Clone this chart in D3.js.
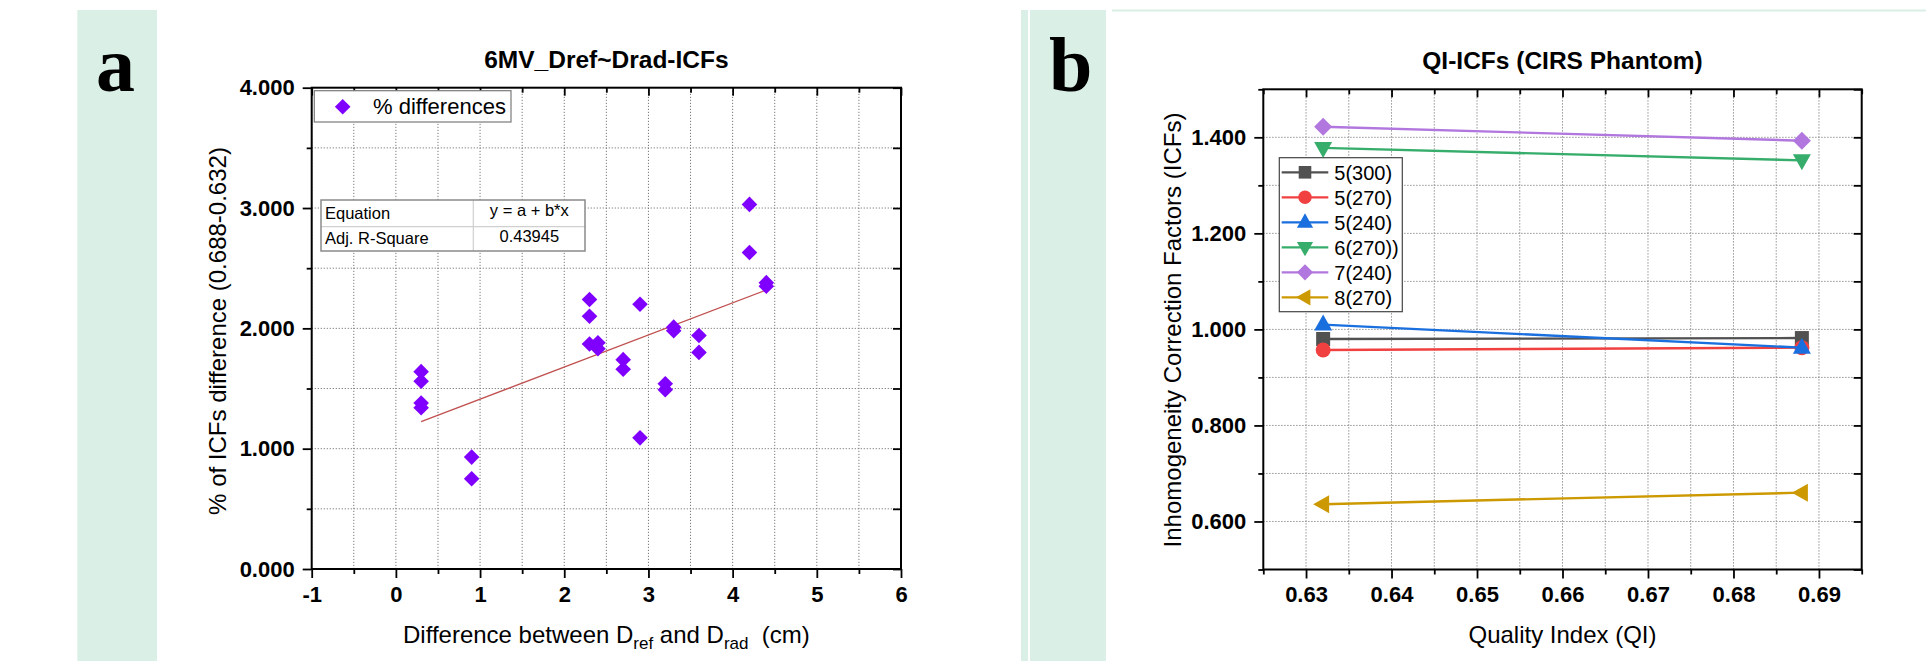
<!DOCTYPE html>
<html><head><meta charset="utf-8">
<script src="https://cdn.jsdelivr.net/npm/d3@7"></script>
<style>body{margin:0;background:#fff;} svg{display:block;} text{white-space:pre;}</style>
</head><body><svg id="c" width="1926" height="661"></svg>
<script>
// ---------- DATA (panel a) ----------
const aXTicks = [-1, 0, 1, 2, 3, 4, 5, 6];
const aYTicks = [0, 1, 2, 3, 4];
const diffX = [0.3,0.3,0.3,0.3, 0.9,0.9, 2.3,2.3,2.3, 2.4,2.4, 2.7,2.7, 2.9,2.9, 3.2,3.2, 3.3,3.3, 3.6,3.6, 4.2,4.2, 4.4,4.4];
const diffY = [1.64,1.56,1.38,1.34, 0.93,0.75, 2.24,2.10,1.87, 1.88,1.83, 1.74,1.66, 2.20,1.09, 1.54,1.49, 2.01,1.98, 1.94,1.80, 3.03,2.63, 2.38,2.35];
const fitAB = [1.144, 0.267];            // y = a + b*x
const tableLabels = ["Equation", "Adj. R-Square"];
const tableValues = ["y = a + b*x", "0.43945"];
const legendA = "% differences";

// ---------- DATA (panel b) ----------
const qi = [0.632, 0.688];
const seriesNames = ["5(300)", "5(270)", "5(240)", "6(270))", "7(240)", "8(270)"];
const icf5_300 = [0.980, 0.982];
const icf5_270 = [0.957, 0.962];
const icf5_240 = [1.010, 0.962];
const icf6_270 = [1.378, 1.352];
const icf7_240 = [1.422, 1.393];
const icf8_270 = [0.636, 0.660];
const bXTicks = [0.63, 0.64, 0.65, 0.66, 0.67, 0.68, 0.69];
const bYTicks = [0.6, 0.8, 1.0, 1.2, 1.4];

// ---------- STYLE ----------
const FONT = "'Liberation Sans', Arial, sans-serif";
const MINT = "#daf0e6";
const seriesColors = ["#515151", "#F14040", "#1A6FDF", "#37AD6B", "#B177DE", "#CC9900"];
const seriesShapes = ["square", "circle", "up", "down", "diamond", "left"];
const shapes = {
  square: "M-7,-7H7V7H-7Z",
  circle: d3.symbol(d3.symbolCircle, Math.PI * 56)(),
  up: "M0,-10L9,6H-9Z",
  down: "M0,10L9,-6H-9Z",
  diamond: "M0,-9L9,0L0,9L-9,0Z",
  left: "M-10,0L6,-9V9Z"
};
const aDiamond = "M0,-7.8L7.8,0L0,7.8L-7.8,0Z";

const svg = d3.select("#c");

// background decorations
svg.append("rect").attr("x", 77.3).attr("y", 10).attr("width", 79.7).attr("height", 651).attr("fill", MINT);
svg.append("rect").attr("x", 1021).attr("y", 10).attr("width", 85).attr("height", 651).attr("fill", MINT);
svg.append("rect").attr("x", 1028).attr("y", 10).attr("width", 2).attr("height", 651).attr("fill", "#fff");
svg.append("rect").attr("x", 1112).attr("y", 9.5).attr("width", 814).attr("height", 2).attr("fill", MINT);

svg.append("text").attr("x", 96).attr("y", 91).attr("font-family", "'Liberation Serif','Times New Roman',serif")
  .attr("font-weight", "bold").attr("font-size", 78).text("a");
svg.append("text").attr("x", 1049).attr("y", 91).attr("font-family", "'Liberation Serif','Times New Roman',serif")
  .attr("font-weight", "bold").attr("font-size", 78).text("b");

function styleAxis(sel, labelSize) {
  sel.select(".domain").remove();
  sel.attr("font-family", FONT).attr("font-size", labelSize).attr("font-weight", "bold");
  sel.selectAll(".tick line").attr("stroke", "#000").attr("stroke-width", 1.8);
  sel.selectAll(".tick text").attr("fill", "#000");
}

function drawGrid(g, x, y, xs, ys) {
  const [x0, x1] = x.range(), [y0, y1] = y.range();
  g.selectAll(null).data(xs).join("line")
    .attr("x1", d => x(d)).attr("x2", d => x(d)).attr("y1", y0).attr("y2", y1)
    .attr("stroke", "#7a7a7a").attr("stroke-width", 1).attr("stroke-dasharray", "1.2,1.8");
  g.selectAll(null).data(ys).join("line")
    .attr("y1", d => y(d)).attr("y2", d => y(d)).attr("x1", x0).attr("x2", x1)
    .attr("stroke", "#7a7a7a").attr("stroke-width", 1).attr("stroke-dasharray", "1.2,1.8");
}

function drawAxes(g, x, y, xMaj, xMin, yMaj, yMin, xFmt, yFmt) {
  const [x0, x1] = x.range(), [y0, y1] = y.range();
  g.append("g").attr("transform", `translate(0,${y0})`)
    .call(d3.axisBottom(x).tickValues(xMaj).tickSize(9).tickPadding(8).tickFormat(xFmt)).call(styleAxis, 22);
  g.append("g").attr("transform", `translate(0,${y0})`)
    .call(d3.axisBottom(x).tickValues(xMin).tickSize(5).tickFormat("")).call(styleAxis, 22);
  g.append("g").attr("transform", `translate(0,${y1})`)
    .call(d3.axisTop(x).tickValues(xMaj).tickSize(-8).tickFormat("")).call(styleAxis, 22);
  g.append("g").attr("transform", `translate(0,${y1})`)
    .call(d3.axisTop(x).tickValues(xMin).tickSize(-5).tickFormat("")).call(styleAxis, 22);
  g.append("g").attr("transform", `translate(${x0},0)`)
    .call(d3.axisLeft(y).tickValues(yMaj).tickSize(9).tickPadding(8).tickFormat(yFmt)).call(styleAxis, 22);
  g.append("g").attr("transform", `translate(${x0},0)`)
    .call(d3.axisLeft(y).tickValues(yMin).tickSize(5).tickFormat("")).call(styleAxis, 22);
  g.append("g").attr("transform", `translate(${x1},0)`)
    .call(d3.axisRight(y).tickValues(yMaj.concat(yMin)).tickSize(-8).tickFormat("")).call(styleAxis, 22);
  g.append("rect").attr("x", x0).attr("y", y1).attr("width", x1 - x0).attr("height", y0 - y1)
    .attr("fill", "none").attr("stroke", "#000").attr("stroke-width", 2);
}

// ================= PANEL A =================
const xA = d3.scaleLinear().domain([-1, 6]).range([311.7, 901]);
const yA = d3.scaleLinear().domain([0, 4]).range([569, 87.7]);
const gA = svg.append("g");
drawGrid(gA, xA, yA, d3.range(-1, 13).map(i => -0.5 + 0.5 * i).filter(v => v < 6), d3.range(1, 8).map(i => 0.5 * i));
drawAxes(gA, xA, yA, aXTicks, aXTicks.slice(0, -1).map(v => v + 0.5),
  aYTicks, aYTicks.slice(0, -1).map(v => v + 0.5), d => String(d), d3.format(".3f"));

// fit line
const fx = d3.extent(diffX);
gA.append("line").attr("x1", xA(fx[0])).attr("y1", yA(fitAB[0] + fitAB[1] * fx[0]))
  .attr("x2", xA(fx[1])).attr("y2", yA(fitAB[0] + fitAB[1] * fx[1]))
  .attr("stroke", "#c05050").attr("stroke-width", 1.3);

gA.selectAll(null).data(diffX.map((d, i) => [d, diffY[i]])).join("path")
  .attr("d", aDiamond).attr("transform", d => `translate(${xA(d[0])},${yA(d[1])})`).attr("fill", "#8000ff");

// legend a
gA.append("rect").attr("x", 314.3).attr("y", 90.7).attr("width", 196.7).attr("height", 31.3)
  .attr("fill", "#fff").attr("stroke", "#7a7a7a").attr("stroke-width", 1.2);
gA.append("path").attr("d", aDiamond).attr("transform", "translate(342.7,106.7)").attr("fill", "#8000ff");
gA.append("text").attr("x", 373).attr("y", 114).attr("font-family", FONT).attr("font-size", 22).text(legendA);

// table
const tb = gA.append("g");
tb.append("rect").attr("x", 321).attr("y", 200).attr("width", 264).attr("height", 51).attr("fill", "#fff");
tb.append("line").attr("x1", 321).attr("x2", 585).attr("y1", 226.7).attr("y2", 226.7).attr("stroke", "#d0d0d0").attr("stroke-width", 1.2);
tb.append("line").attr("x1", 473.3).attr("x2", 473.3).attr("y1", 200).attr("y2", 251).attr("stroke", "#d0d0d0").attr("stroke-width", 1.2);
tb.append("rect").attr("x", 321).attr("y", 200).attr("width", 264).attr("height", 51).attr("fill", "none")
  .attr("stroke", "#8a8a8a").attr("stroke-width", 1.5);
tableLabels.forEach((t, i) => {
  tb.append("text").attr("x", 325).attr("y", 218.5 + 25 * i).attr("font-family", FONT).attr("font-size", 16.5).text(t);
  tb.append("text").attr("x", 529.3).attr("y", 216 + 26 * i).attr("text-anchor", "middle")
    .attr("font-family", FONT).attr("font-size", 16.5).text(tableValues[i]);
});

// titles a
svg.append("text").attr("x", 606.4).attr("y", 68).attr("text-anchor", "middle").attr("font-family", FONT)
  .attr("font-weight", "bold").attr("font-size", 24.5).text("6MV_Dref~Drad-ICFs");
const xt = svg.append("text").attr("x", 606.4).attr("y", 643).attr("text-anchor", "middle")
  .attr("font-family", FONT).attr("font-size", 24);
xt.append("tspan").text("Difference between D");
xt.append("tspan").attr("font-size", 17).attr("dy", 6).text("ref");
xt.append("tspan").attr("dy", -6).text(" and D");
xt.append("tspan").attr("font-size", 17).attr("dy", 6).text("rad");
xt.append("tspan").attr("dy", -6).text("  (cm)");
svg.append("text").attr("transform", "translate(226,331) rotate(-90)").attr("text-anchor", "middle")
  .attr("font-family", FONT).attr("font-size", 24).text("% of ICFs difference (0.688-0.632)");

// ================= PANEL B =================
const xB = d3.scaleLinear().domain([0.625, 0.695]).range([1263.3, 1861.7]);
const yB = d3.scaleLinear().domain([0.5, 1.5]).range([569.5, 89.3]);
const gB = svg.append("g");
drawGrid(gB, xB, yB, d3.range(1, 14).map(i => 0.625 + 0.005 * i), d3.range(1, 10).map(i => 0.5 + 0.1 * i));
drawAxes(gB, xB, yB, bXTicks, d3.range(0, 8).map(i => 0.625 + 0.01 * i),
  bYTicks, [0.5, 0.7, 0.9, 1.1, 1.3, 1.5], d3.format(".2f"), d3.format(".3f"));

const seriesVals = [icf5_300, icf5_270, icf5_240, icf6_270, icf7_240, icf8_270];
const line = d3.line().x((d, i) => xB(qi[i])).y(d => yB(d));
seriesVals.forEach((vals, s) => {
  gB.append("path").attr("d", line(vals)).attr("fill", "none").attr("stroke", seriesColors[s]).attr("stroke-width", 2.4);
  gB.selectAll(null).data(vals).join("path").attr("d", shapes[seriesShapes[s]])
    .attr("transform", (d, i) => `translate(${xB(qi[i])},${yB(d)})`).attr("fill", seriesColors[s]);
});

// legend b
const lg = gB.append("g");
lg.append("rect").attr("x", 1279.3).attr("y", 157.7).attr("width", 123).attr("height", 154)
  .attr("fill", "#fff").attr("stroke", "#444").attr("stroke-width", 1.2);
seriesNames.forEach((n, s) => {
  const cy = 172.3 + 25 * s;
  lg.append("line").attr("x1", 1281.7).attr("x2", 1328.3).attr("y1", cy).attr("y2", cy)
    .attr("stroke", seriesColors[s]).attr("stroke-width", 2.2);
  lg.append("path").attr("d", shapes[seriesShapes[s]]).attr("transform", `translate(1305,${cy}) scale(0.9)`).attr("fill", seriesColors[s]);
  lg.append("text").attr("x", 1334.3).attr("y", cy).attr("dy", "0.36em").attr("font-family", FONT)
    .attr("font-size", 20).text(n);
});

svg.append("text").attr("x", 1562.5).attr("y", 69).attr("text-anchor", "middle").attr("font-family", FONT)
  .attr("font-weight", "bold").attr("font-size", 24.5).text("QI-ICFs (CIRS Phantom)");
svg.append("text").attr("x", 1562.5).attr("y", 643).attr("text-anchor", "middle").attr("font-family", FONT)
  .attr("font-size", 24).text("Quality Index (QI)");
svg.append("text").attr("transform", "translate(1181,330) rotate(-90)").attr("text-anchor", "middle")
  .attr("font-family", FONT).attr("font-size", 24).text("Inhomogeneity Correction Factors (ICFs)");
</script>
</body></html>
